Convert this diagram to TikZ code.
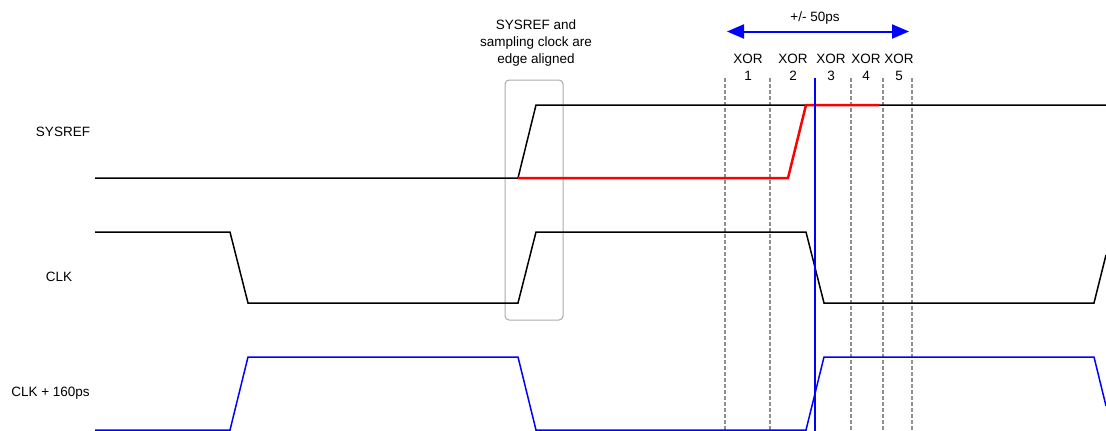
\documentclass[tikz,border=0pt]{standalone}
\usepackage{fontspec}
\setmainfont{Liberation Sans}
\usetikzlibrary{arrows.meta}
\definecolor{pureblue}{HTML}{0000FF}
\definecolor{purered}{HTML}{FF0000}
\definecolor{dashgray}{HTML}{8F8F8F}
\definecolor{boxgray}{HTML}{AAAAAA}
\begin{document}
\begin{tikzpicture}[x=1pt,y=-1pt,
  font=\fontsize{13.5}{17}\selectfont,
  lbl/.style={inner sep=0pt, align=center, text=black},
  sigblack/.style={line width=1.5pt, black},
  sigblue/.style={line width=1.5pt, pureblue},
  sigred/.style={line width=2.5pt, purered},
  xorline/.style={line width=2pt, dashgray, dash pattern=on 4pt off 2pt},
  alignbox/.style={draw=boxgray, line width=1pt, rounded corners=4pt},
  marker/.style={line width=2pt, pureblue},
  rangearrow/.style={line width=2pt, pureblue, {Triangle[length=17pt,width=14pt]}-{Triangle[length=17pt,width=14pt]}}
]
\useasboundingbox (0,0) rectangle (1106,431);

% labels
\node[lbl] (lsys) at (63,132) {SYSREF};
\node[lbl] (lclk) at (59,277) {CLK};
\node[lbl] (lclk2) at (50.5,393) {CLK + 160ps};
\node[lbl] (lnote) at (536,43) {SYSREF and\\sampling clock are\\edge aligned};
\node[lbl] (lrange) at (815,18) {+/- 50ps};

% XOR labels
\node[lbl] (x1) at (748,67) {XOR\\1};
\node[lbl] (x2) at (793,67) {XOR\\2};
\node[lbl] (x3) at (831,67) {XOR\\3};
\node[lbl] (x4) at (866,67) {XOR\\4};
\node[lbl] (x5) at (899,67) {XOR\\5};

% dashed XOR boundaries
\foreach \xx in {725,770,851,883,912}
  \draw[xorline] (\xx,78) -- (\xx,431);

% alignment box
\draw[alignbox] (505,80) rectangle (563,320);

% SYSREF
\draw[sigblack] (95,178) -- (518,178) -- (536,105) -- (1106,105);
\draw[sigred] (518,178) -- (788,178) -- (806,105) -- (879,105);

% CLK
\draw[sigblack] (95,232) -- (230,232) -- (248,303) -- (518,303) -- (536,232)
  -- (806,232) -- (824,303) -- (1094,303) -- (1106,255);

% CLK + 160ps
\draw[sigblue] (95,430) -- (230,430) -- (248,357) -- (518,357) -- (536,430)
  -- (806,430) -- (824,357) -- (1094,357) -- (1106,406);

% blue marker
\coordinate (mtop) at (815,78);
\coordinate (mbot) at (815,431);
\draw[marker] (mtop) -- (mbot);

% range arrow
\coordinate (ra) at (727,31.5);
\coordinate (rb) at (909,31.5);
\draw[rangearrow] (ra) -- (rb);
\end{tikzpicture}
\end{document}
